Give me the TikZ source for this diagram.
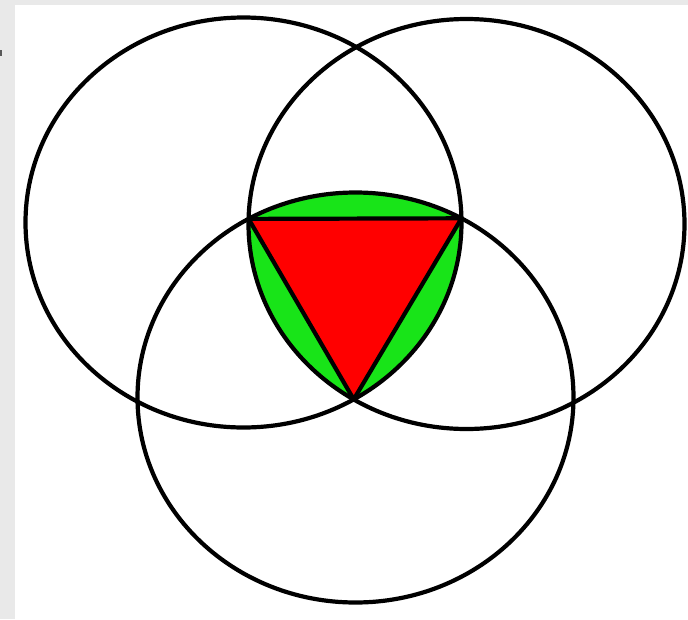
\documentclass[tikz,border=0pt]{standalone}
\usepackage{tikz}

\definecolor{lensgreen}{RGB}{24,228,24}
\definecolor{corered}{RGB}{255,0,0}
\definecolor{framegray}{RGB}{233,233,233}

\begin{document}
\begin{tikzpicture}[
    x=1pt, y=-1pt,
    ring/.style={draw=black, line width=4.2pt},
    edge/.style={draw=black, line width=4.2pt, line join=round},
    oval/.style={x radius=218, y radius=205}
]
\useasboundingbox (0,0) rectangle (688,619);
\fill[white] (0,0) rectangle (688,619);

% Frame
\fill[framegray] (0,0) rectangle (15,619);
\fill[framegray] (0,0) rectangle (688,5);
\fill[black!65] (0,50) rectangle (2,56);

% Circle centres
\coordinate (cleft) at (243.5,222.5);
\coordinate (cright) at (466.5,224);
\coordinate (cbottom) at (355.5,397.5);

% Triangle corners
\coordinate (tleft) at (248.6,218.9);
\coordinate (tright) at (461.5,218.3);
\coordinate (tbottom) at (353.7,399.4);

% Common part of the three circles
\begin{scope}
    \clip (cleft) ellipse [oval];
    \clip (cright) ellipse [oval];
    \fill[lensgreen] (cbottom) ellipse [oval];
\end{scope}

% Triangle
\filldraw[edge, fill=corered] (tleft) -- (tright) -- (tbottom) -- cycle;

% Circles
\draw[ring] (cleft) ellipse [oval];
\draw[ring] (cright) ellipse [oval];
\draw[ring] (cbottom) ellipse [oval];

\end{tikzpicture}
\end{document}
